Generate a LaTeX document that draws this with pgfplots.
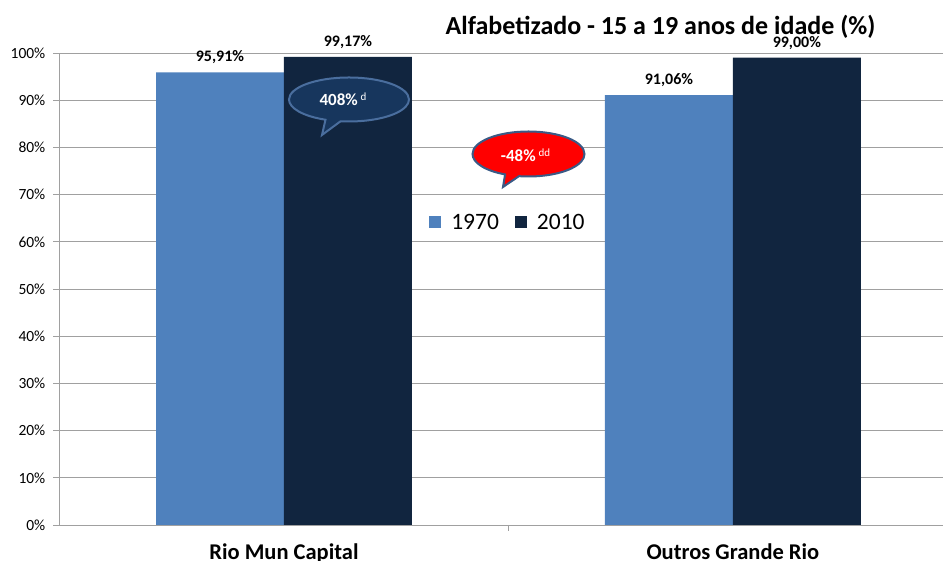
\documentclass[border=0pt]{standalone}
\usepackage{fontspec}
\setmainfont{Carlito}
\usepackage{pgfplots}
\pgfplotsset{compat=1.18}
\usetikzlibrary{shapes.callouts}
\definecolor{bar70}{HTML}{4F81BD}
\definecolor{bar10}{HTML}{11253F}
\definecolor{gridgray}{HTML}{A0A0A0}
\definecolor{bubbleblue}{HTML}{17365D}
\definecolor{bubbleedge}{HTML}{4A6E9E}
\definecolor{rededge}{HTML}{3A5A86}

\begin{document}
\begin{tikzpicture}
\begin{axis}[
  at={(59.5pt,36pt)},anchor=south west,
  scale only axis,width=883.5pt,height=472pt,
  clip=false,
  ybar=0pt,bar width=0.285,
  xmin=-0.5,xmax=1.468,
  ymin=0,ymax=100,
  xtick={0,1},xticklabels={Rio Mun Capital,Outros Grande Rio},
  ytick={0,10,...,100},
  yticklabel={\pgfmathprintnumber{\tick}\%},
  /pgf/number format/assume math mode=true,
  axis x line*=bottom,axis y line*=left,
  axis line style={draw=gridgray,line width=0.8pt},
  xtick style={draw=none},
  ytick style={draw=gridgray,line width=0.8pt},
  tick align=outside,major tick length=6pt,
  ymajorgrids,grid style={draw=gridgray,line width=0.8pt},
  yticklabel style={font=\fontsize{15.5}{18}\selectfont,anchor=east,inner sep=0pt,xshift=-8pt},
  xticklabel style={font=\fontsize{22.5}{26}\bfseries\selectfont,anchor=base,inner sep=0pt,yshift=-29pt},
  nodes near coords={\pgfmathprintnumber[fixed,fixed zerofill,precision=2,use comma,assume math mode=true]{\pgfplotspointmeta}\%},
  every node near coord/.append style={font=\fontsize{16}{19}\bfseries\selectfont,text=black,anchor=south,inner sep=0pt,yshift=8pt},
  legend style={at={(0.5076,0.641)},anchor=center,draw=none,fill=none,
    font=\fontsize{23.5}{28}\selectfont,legend columns=2,
    /tikz/every odd column/.append style={column sep=8pt},
    /tikz/every even column/.append style={column sep=14pt}},
  legend image code/.code={\fill[#1,draw=none] (0pt,-6pt) rectangle (12pt,6pt);},
]
\addplot[fill=bar70,draw=none] coordinates {(0,95.91) (1,91.06)};
\addplot[fill=bar10,draw=none] coordinates {(0,99.17) (1,99.00)};
\legend{1970,2010}
\draw[gridgray,line width=0.8pt] (axis cs:0.5,0) -- ++(0pt,-6pt);
\end{axis}
% callouts
\node[ellipse callout,draw=bubbleedge,fill=bubbleblue,line width=2pt,
  minimum width=120pt,minimum height=44pt,inner sep=0pt,
  callout absolute pointer={(322pt,426pt)}] at (349pt,461.5pt) {};
\node[text=white,font=\fontsize{17}{20}\bfseries\selectfont] at (343pt,462pt)
  {408\%\,\raisebox{5pt}{\fontsize{11}{12}\mdseries\selectfont d}};
\node[ellipse callout,draw=rededge,fill=red,line width=2pt,
  minimum width=112pt,minimum height=45pt,inner sep=0pt,
  callout absolute pointer={(503pt,374pt)}] at (528.5pt,407pt) {};
\node[text=white,font=\fontsize{17}{20}\bfseries\selectfont] at (525.5pt,406pt)
  {-48\%\,\raisebox{5pt}{\fontsize{11}{12}\mdseries\selectfont dd}};
% title
\node[anchor=base,font=\fontsize{26}{30}\bfseries\selectfont] at (660.5pt,526pt)
  {Alfabetizado - 15 a 19 anos de idade (\%)};
\pgfresetboundingbox
\path[use as bounding box] (0,0) rectangle (943pt,561pt);
\end{tikzpicture}
\end{document}
